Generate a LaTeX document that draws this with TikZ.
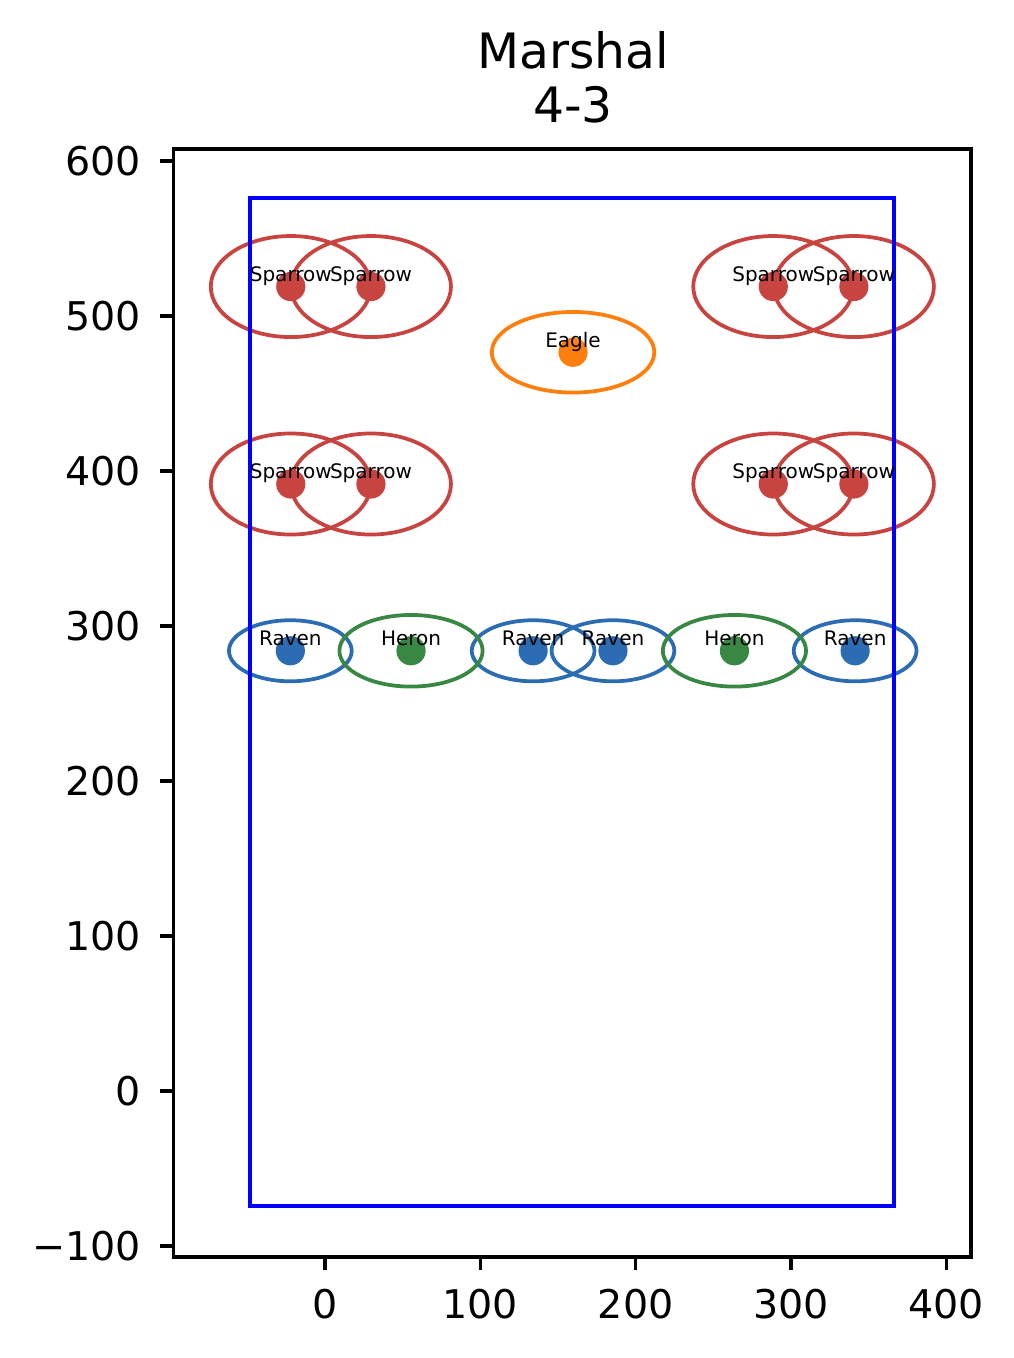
\documentclass[tikz,border=0pt]{standalone}
\usepackage{fontspec}
\setmainfont{DejaVu Sans}
\usepackage{xcolor}
\usepackage{tikz}
\usetikzlibrary{positioning}

\definecolor{sparrowred}{RGB}{199,68,64}
\definecolor{eagleorange}{RGB}{255,127,14}
\definecolor{ravenblue}{RGB}{43,108,178}
\definecolor{herongreen}{RGB}{56,135,66}

\begin{document}
\begin{tikzpicture}[
    x=0.37284pt, y=0.372pt,
    player/.style={circle, inner sep=0pt, minimum size=7pt},
    ring/.style={line width=0.9pt},
    tag/.style={anchor=base, inner sep=0pt, font=\fontsize{4.8}{5}\selectfont},
    ticklbl/.style={inner sep=0pt, font=\fontsize{9.5}{11}\selectfont},
    axisline/.style={line width=0.8pt}
]
\useasboundingbox (-209.2,-172.3) rectangle (443.5,703.9);

% Title
\node[align=center, anchor=south, inner sep=0pt, font=\fontsize{11.7}{12.96}\selectfont] (title) at (159.7,623.6) {Marshal\\4-3};

% Axes frame and ticks
\draw[axisline] (-97.5,-107.1) rectangle (415.8,607.7);
\foreach \x in {0,100,200,300,400} {
  \draw[axisline] (\x,-107.1) -- (\x,-115.5);
  \node[ticklbl, anchor=north] (xt\x) at (\x,-127.1) {\x};
}
\foreach \y/\t in {-100/−100,0/0,100/100,200/200,300/300,400/400,500/500,600/600} {
  \draw[axisline] (-97.5,\y) -- (-106.5,\y);
  \node[ticklbl, anchor=east] (yt\y) at (-117.8,\y) {\t};
}

% Sparrows
\node[player, fill=sparrowred] (sp1) at (-22,519) {};
\node[player, fill=sparrowred] (sp2) at (29.6,519) {};
\node[player, fill=sparrowred] (sp3) at (288.6,519) {};
\node[player, fill=sparrowred] (sp4) at (340.5,519) {};
\node[player, fill=sparrowred] (sp5) at (-22,391.6) {};
\node[player, fill=sparrowred] (sp6) at (29.6,391.6) {};
\node[player, fill=sparrowred] (sp7) at (288.6,391.6) {};
\node[player, fill=sparrowred] (sp8) at (340.5,391.6) {};

% Eagle
\node[player, fill=eagleorange] (eagle) at (159.7,476.6) {};

% Ravens and Herons
\node[player, fill=ravenblue] (rv1) at (-22.3,284) {};
\node[player, fill=herongreen] (hr1) at (55.4,284) {};
\node[player, fill=ravenblue] (rv2) at (134,284) {};
\node[player, fill=ravenblue] (rv3) at (185.4,284) {};
\node[player, fill=herongreen] (hr2) at (263.6,284) {};
\node[player, fill=ravenblue] (rv4) at (341.3,284) {};

% Rings
\draw[ring, sparrowred] (sp1) ellipse [x radius=51.5, y radius=32.6];
\draw[ring, sparrowred] (sp2) ellipse [x radius=51.5, y radius=32.6];
\draw[ring, sparrowred] (sp3) ellipse [x radius=51.5, y radius=32.6];
\draw[ring, sparrowred] (sp4) ellipse [x radius=51.5, y radius=32.6];
\draw[ring, sparrowred] (sp5) ellipse [x radius=51.5, y radius=32.6];
\draw[ring, sparrowred] (sp6) ellipse [x radius=51.5, y radius=32.6];
\draw[ring, sparrowred] (sp7) ellipse [x radius=51.5, y radius=32.6];
\draw[ring, sparrowred] (sp8) ellipse [x radius=51.5, y radius=32.6];
\draw[ring, eagleorange] (eagle) ellipse [x radius=52.3, y radius=26];
\draw[ring, ravenblue] (rv1) ellipse [x radius=39.5, y radius=19.7];
\draw[ring, ravenblue] (rv2) ellipse [x radius=39.5, y radius=19.7];
\draw[ring, ravenblue] (rv3) ellipse [x radius=39.5, y radius=19.7];
\draw[ring, ravenblue] (rv4) ellipse [x radius=39.5, y radius=19.7];
\draw[ring, herongreen] (hr1) ellipse [x radius=46.1, y radius=23.1];
\draw[ring, herongreen] (hr2) ellipse [x radius=46.1, y radius=23.1];

% Field
\draw[line width=1pt, blue] (-48.2,-74) rectangle (366.3,576);

% Labels
\node[tag] (sp1t) at (-22,522.3) {Sparrow};
\node[tag] (sp2t) at (29.6,522.3) {Sparrow};
\node[tag] (sp3t) at (288.6,522.3) {Sparrow};
\node[tag] (sp4t) at (340.5,522.3) {Sparrow};
\node[tag] (sp5t) at (-22,394.9) {Sparrow};
\node[tag] (sp6t) at (29.6,394.9) {Sparrow};
\node[tag] (sp7t) at (288.6,394.9) {Sparrow};
\node[tag] (sp8t) at (340.5,394.9) {Sparrow};
\node[tag] (eaglet) at (159.7,479.6) {Eagle};
\node[tag] (rv1t) at (-22.3,287.5) {Raven};
\node[tag] (hr1t) at (55.4,287.5) {Heron};
\node[tag] (rv2t) at (134,287.5) {Raven};
\node[tag] (rv3t) at (185.4,287.5) {Raven};
\node[tag] (hr2t) at (263.6,287.5) {Heron};
\node[tag] (rv4t) at (341.3,287.5) {Raven};

\end{tikzpicture}
\end{document}
